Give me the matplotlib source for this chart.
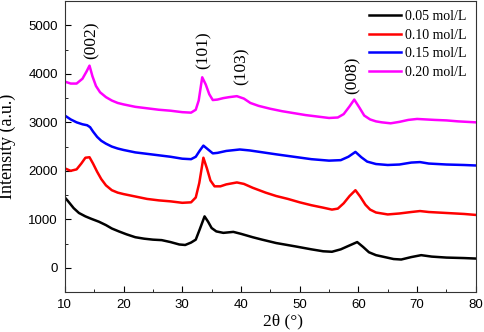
import matplotlib
matplotlib.use("Agg")
import matplotlib.pyplot as plt
from matplotlib.ticker import MultipleLocator

# (2theta in degrees, intensity in a.u.)
x_005 = [10, 10.5, 11.5, 12.4, 13.5, 14.5, 15.8, 17, 18, 19.2, 20.5, 22, 23.5, 25, 26.5, 28,
         29.5, 30.5, 31.5, 32.3, 33, 33.8, 34.4, 35, 35.8, 37, 38.7, 40, 42, 43.6, 46, 49.3,
         52, 54, 55.5, 57, 58.3, 59.8, 60.8, 61.8, 63, 64.5, 66, 67.3, 69, 70.7, 72.5, 75, 78, 80]
y_005 = [1450, 1380, 1230, 1130, 1060, 1010, 950, 880, 810, 750, 690, 630, 600, 580, 570, 530,
         480, 470, 520, 580, 800, 1060, 950, 820, 750, 720, 740, 700, 630, 580, 510, 440,
         380, 340, 330, 380, 450, 530, 430, 320, 260, 220, 180, 170, 220, 260, 230, 210, 200, 190]

x_010 = [10, 11, 12, 12.8, 13.5, 14.2, 14.8, 15.5, 16.2, 17, 18, 19, 20, 22, 24, 26, 28, 30,
         31.5, 32.3, 32.9, 33.6, 34.2, 34.8, 35.5, 36.5, 37.5, 39.3, 40.5, 42, 44.2, 46, 48,
         50, 52, 54, 55.5, 56.5, 57.5, 58.5, 59.5, 60.3, 61.2, 62, 63, 65, 67, 69, 70.5, 72,
         75, 78, 80]
y_010 = [2050, 2000, 2030, 2150, 2270, 2280, 2150, 1980, 1830, 1700, 1600, 1550, 1520, 1470,
         1420, 1390, 1370, 1340, 1350, 1450, 1750, 2270, 2050, 1800, 1680, 1680, 1720, 1760,
         1730, 1650, 1550, 1480, 1420, 1350, 1290, 1240, 1200, 1220, 1330, 1480, 1600, 1470,
         1300, 1200, 1140, 1100, 1120, 1150, 1170, 1150, 1130, 1110, 1090]

x_015 = [10, 11, 12, 13, 13.8, 14.3, 14.8, 15.5, 16.2, 17, 18, 19, 20, 22, 24, 26, 28, 30,
         31.5, 32.3, 33, 33.6, 34.3, 35.2, 36, 37.5, 39.8, 41.5, 43.2, 46, 49, 52, 55, 57,
         58.3, 59.5, 60.5, 61.5, 63, 65, 67, 69, 70.5, 72, 75, 78, 80]
y_015 = [3140, 3060, 3000, 2960, 2940, 2900, 2810, 2700, 2620, 2560, 2500, 2460, 2430, 2380,
         2350, 2320, 2290, 2250, 2240, 2290, 2420, 2520, 2450, 2360, 2370, 2410, 2440, 2420,
         2390, 2340, 2290, 2240, 2210, 2220, 2290, 2390, 2280, 2190, 2140, 2120, 2130, 2170,
         2180, 2150, 2130, 2120, 2110]

x_020 = [10, 11, 12, 13, 13.7, 14.2, 14.7, 15.3, 16, 17, 18, 19, 20, 22, 24, 26, 28, 30,
         31.5, 32.3, 32.8, 33.4, 34.0, 34.6, 35.2, 36, 37, 38, 39.3, 40.5, 41.6, 43, 45, 47,
         49, 51, 53, 55, 56.5, 57.5, 58.5, 59.3, 60.2, 61, 62, 63, 64, 65.5, 67, 68.5, 70,
         71.5, 73, 75, 77, 80]
y_020 = [3840, 3800, 3800, 3900, 4050, 4170, 3950, 3750, 3620, 3520, 3450, 3400, 3370, 3320,
         3290, 3260, 3240, 3210, 3200, 3260, 3450, 3930, 3780, 3580, 3460, 3470, 3500, 3520,
         3540, 3490, 3400, 3340, 3280, 3230, 3190, 3150, 3120, 3090, 3100, 3170, 3330, 3470,
         3300, 3140, 3060, 3020, 3000, 2980, 3010, 3050, 3070, 3060, 3050, 3040, 3020, 3000]

labels = ["0.05 mol/L", "0.10 mol/L", "0.15 mol/L", "0.20 mol/L"]
colors = ["black", "red", "blue", "magenta"]

peak_names = ["(002)", "(101)", "(103)", "(008)"]
peak_x = [14.5, 33.6, 40.1, 59.1]
peak_y = [4690, 4490, 4160, 3970]

serif = ["Liberation Serif", "Times New Roman", "DejaVu Serif"]
plt.rcParams["font.family"] = ["Liberation Sans", "DejaVu Sans"]

fig = plt.figure(figsize=(4.84, 3.32), dpi=100)
ax = fig.add_axes([0.134, 0.1205, 0.849, 0.876])

series = [(x_005, y_005), (x_010, y_010), (x_015, y_015), (x_020, y_020)]
for (xs, ys), lab, c in zip(series, labels, colors):
    ax.plot(xs, ys, color=c, lw=1.8, label=lab)

for name, px, py in zip(peak_names, peak_x, peak_y):
    ax.text(px, py, name, rotation=90, ha="center", va="center",
            fontsize=12.5, family=serif)

ax.set_xlim(10, 80)
ax.set_ylim(-500, 5500)
ax.xaxis.set_major_locator(MultipleLocator(10))
ax.xaxis.set_minor_locator(MultipleLocator(5))
ax.yaxis.set_major_locator(MultipleLocator(1000))
ax.yaxis.set_minor_locator(MultipleLocator(500))
ax.tick_params(which="both", direction="in", labelsize=9.5, pad=5)
ax.tick_params(which="major", length=4.5)
ax.tick_params(which="minor", length=2.5)
for sp in ax.spines.values():
    sp.set_color("#333333")

ax.set_xlabel("2θ (°)", fontsize=12.5, family=serif)
ax.set_ylabel("Intensity (a.u.)", fontsize=13, family=serif)
ax.xaxis.set_label_coords(0.53, -0.075)
ax.yaxis.set_label_coords(-0.118, 0.5)

leg = ax.legend(loc="upper right", frameon=False, handlelength=2.3,
                labelspacing=0.4, borderaxespad=0.25, handletextpad=0.3,
                prop={"family": serif, "size": 10})

fig.savefig("out.png", dpi=100)
